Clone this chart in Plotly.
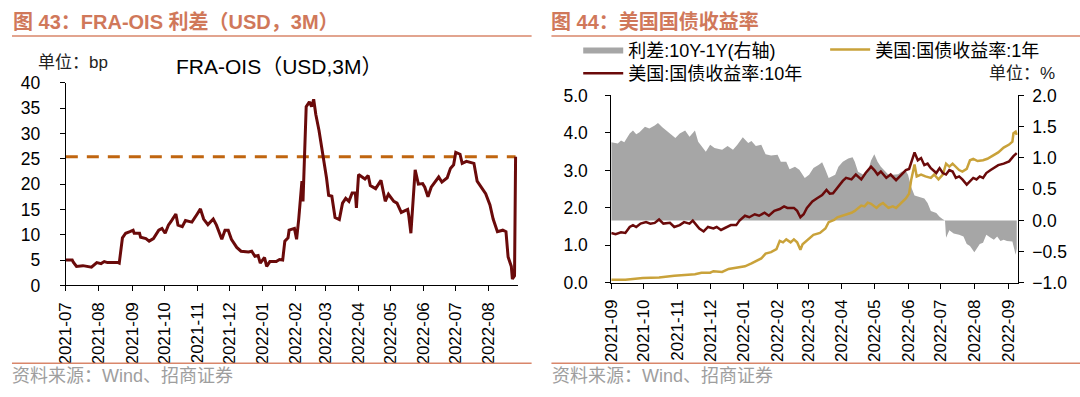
import plotly.graph_objects as go

W, H = 1080, 397

# ---------------- data: left panel (FRA-OIS, bp) ----------------
fra_dates = ["2021-07-01","2021-07-07","2021-07-08","2021-07-11","2021-07-17","2021-07-22","2021-07-25","2021-07-30","2021-08-03","2021-08-06",
             "2021-08-09","2021-08-19","2021-08-20","2021-08-23","2021-08-26","2021-08-30","2021-09-02","2021-09-03","2021-09-08","2021-09-09",
             "2021-09-14","2021-09-17","2021-09-21","2021-09-26","2021-09-29","2021-10-02","2021-10-05","2021-10-08","2021-10-12","2021-10-14",
             "2021-10-18","2021-10-21","2021-10-27","2021-11-01","2021-11-04","2021-11-07","2021-11-11","2021-11-16","2021-11-19","2021-11-24",
             "2021-11-27","2021-11-30","2021-12-03","2021-12-08","2021-12-12","2021-12-19","2021-12-22","2021-12-25","2021-12-28","2021-12-30",
             "2022-01-03","2022-01-05","2022-01-08","2022-01-14","2022-01-17","2022-01-20","2022-01-22","2022-01-25","2022-01-26","2022-01-31",
             "2022-02-02","2022-02-04","2022-02-07","2022-02-08","2022-02-11","2022-02-14","2022-02-16","2022-02-18","2022-02-20","2022-02-23",
             "2022-02-27","2022-03-02","2022-03-04","2022-03-07","2022-03-10","2022-03-14","2022-03-17","2022-03-20","2022-03-23","2022-03-26",
             "2022-03-29","2022-03-30","2022-04-01","2022-04-05","2022-04-07","2022-04-10","2022-04-12","2022-04-17","2022-04-22","2022-04-26",
             "2022-04-29","2022-05-04","2022-05-07","2022-05-11","2022-05-17","2022-05-18","2022-05-20","2022-05-24","2022-05-27","2022-05-31",
             "2022-06-02","2022-06-05","2022-06-08","2022-06-15","2022-06-18","2022-06-23","2022-06-26","2022-06-29","2022-07-01","2022-07-05",
             "2022-07-07","2022-07-11","2022-07-18","2022-07-21","2022-07-24","2022-07-29","2022-08-02","2022-08-05","2022-08-09","2022-08-14",
             "2022-08-17","2022-08-19","2022-08-22","2022-08-23","2022-08-25","2022-08-26"]
fra_values = [5.0,5.0,4.6,3.75,3.9,3.75,3.6,4.5,4.3,4.7,
              4.5,4.5,4.4,9.4,10.3,10.6,10.9,10.3,10.3,9.5,
              9.25,8.75,9.25,10.9,11.25,10.3,11.9,12.8,14.1,11.9,
              11.6,12.8,12.5,14.1,15.1,13.1,12.0,13.1,11.9,9.1,
              10.9,10.9,9.1,7.5,6.75,6.6,6.75,5.75,5.9,4.4,
              5.5,3.75,4.7,4.7,5.1,5.0,8.75,9.4,10.9,11.25,
              9.1,13.1,20.6,16.6,35.3,36.25,35.3,36.75,33.75,30.6,
              25.6,21.25,17.8,17.6,13.4,13.0,16.25,17.2,16.6,18.25,
              18.25,15.3,21.9,21.4,21.0,21.7,19.7,19.1,20.75,16.6,
              18.0,16.6,16.25,14.4,15.0,13.8,10.3,22.8,20.0,20.1,
              19.4,17.5,19.4,21.4,20.4,21.25,23.1,23.8,26.25,25.9,
              24.1,24.5,24.1,20.6,19.7,18.1,15.9,13.1,10.6,10.9,
              10.6,5.6,3.75,1.25,1.9,25.4]
fra_ref_level = 25.4   # dashed reference line (latest value)

# ---------------- data: right panel (US Treasury yields, %) ----------------
spread_dates = ["2021-09-01","2021-09-07","2021-09-10","2021-09-13","2021-09-18","2021-09-21","2021-09-24","2021-09-27","2021-10-02","2021-10-06",
                "2021-10-11","2021-10-14","2021-10-18","2021-10-24","2021-10-30","2021-11-03","2021-11-08","2021-11-12","2021-11-17","2021-11-20",
                "2021-11-27","2021-12-01","2021-12-05","2021-12-12","2021-12-17","2021-12-22","2021-12-26","2021-12-31","2022-01-05","2022-01-08",
                "2022-01-12","2022-01-17","2022-01-21","2022-01-26","2022-02-01","2022-02-04","2022-02-09","2022-02-12","2022-02-17","2022-02-21",
                "2022-02-26","2022-03-02","2022-03-06","2022-03-11","2022-03-14","2022-03-17","2022-03-20","2022-03-26","2022-03-29","2022-04-02",
                "2022-04-07","2022-04-11","2022-04-13","2022-04-16","2022-04-21","2022-04-25","2022-04-28","2022-05-01","2022-05-04","2022-05-07",
                "2022-05-11","2022-05-14","2022-05-18","2022-05-23","2022-05-26","2022-05-30","2022-06-01","2022-06-04","2022-06-07","2022-06-11",
                "2022-06-16","2022-06-19","2022-06-22","2022-06-27","2022-06-30","2022-07-03","2022-07-05","2022-07-06","2022-07-09","2022-07-13",
                "2022-07-18","2022-07-22","2022-07-25","2022-07-28","2022-08-01","2022-08-03","2022-08-06","2022-08-09","2022-08-12","2022-08-16",
                "2022-08-19","2022-08-22","2022-08-25","2022-08-28","2022-08-31","2022-09-05","2022-09-07","2022-09-08","2022-09-09"]
spread_values = [1.25,1.23,1.28,1.25,1.39,1.44,1.38,1.41,1.50,1.47,
                 1.52,1.56,1.49,1.41,1.32,1.39,1.44,1.34,1.44,1.26,
                 1.10,1.21,1.16,1.13,1.19,1.13,1.21,1.33,1.24,1.27,
                 1.19,1.21,1.06,1.04,1.05,0.94,0.94,0.82,0.86,0.81,
                 0.68,0.73,0.84,0.89,0.93,0.81,0.68,0.73,0.86,0.94,
                 0.99,1.01,0.94,0.78,0.73,0.78,0.96,1.06,0.94,0.86,
                 0.79,0.73,0.73,0.74,0.78,0.79,0.73,0.53,0.40,0.38,
                 0.35,0.28,0.15,0.12,0.06,0.02,0.0,-0.28,-0.16,-0.21,
                 -0.23,-0.26,-0.38,-0.41,-0.51,-0.46,-0.38,-0.36,-0.23,-0.28,
                 -0.31,-0.26,-0.33,-0.31,-0.33,-0.34,-0.51,-0.55,-0.45]

y10_dates = ["2021-09-01","2021-09-05","2021-09-10","2021-09-14","2021-09-18","2021-09-21","2021-09-24","2021-09-28","2021-10-03","2021-10-07",
             "2021-10-11","2021-10-15","2021-10-19","2021-10-25","2021-10-29","2021-11-03","2021-11-07","2021-11-12","2021-11-15","2021-11-18",
             "2021-11-21","2021-11-25","2021-11-29","2021-12-04","2021-12-07","2021-12-11","2021-12-16","2021-12-20","2021-12-25","2021-12-28",
             "2022-01-02","2022-01-06","2022-01-11","2022-01-15","2022-01-20","2022-01-24","2022-01-29","2022-02-03","2022-02-07","2022-02-10",
             "2022-02-16","2022-02-19","2022-02-22","2022-02-25","2022-02-28","2022-03-05","2022-03-09","2022-03-14","2022-03-18","2022-03-21",
             "2022-03-24","2022-03-28","2022-04-02","2022-04-05","2022-04-10","2022-04-14","2022-04-19","2022-04-23","2022-04-28","2022-05-01",
             "2022-05-04","2022-05-07","2022-05-12","2022-05-16","2022-05-21","2022-05-26","2022-05-30","2022-06-02","2022-06-05","2022-06-07",
             "2022-06-10","2022-06-13","2022-06-16","2022-06-19","2022-06-22","2022-06-27","2022-06-30","2022-07-03","2022-07-06","2022-07-09",
             "2022-07-12","2022-07-15","2022-07-18","2022-07-21","2022-07-25","2022-07-28","2022-07-31","2022-08-03","2022-08-06","2022-08-09",
             "2022-08-12","2022-08-16","2022-08-19","2022-08-23","2022-08-28","2022-09-02","2022-09-06","2022-09-09"]
y10_values = [1.33,1.30,1.35,1.33,1.49,1.54,1.49,1.58,1.62,1.58,
              1.60,1.69,1.58,1.60,1.49,1.54,1.62,1.58,1.66,1.54,
              1.45,1.37,1.49,1.45,1.49,1.41,1.49,1.54,1.54,1.66,
              1.79,1.75,1.83,1.79,1.87,1.79,1.92,1.97,2.04,2.00,
              2.00,1.92,1.75,1.83,2.00,2.17,2.25,2.34,2.48,2.38,
              2.39,2.55,2.72,2.80,2.76,2.89,2.76,2.93,3.10,3.01,
              2.89,2.97,2.80,2.89,2.74,2.89,3.01,3.04,3.27,3.48,
              3.27,3.33,3.14,3.18,3.06,2.93,3.06,2.93,2.89,3.01,
              2.97,2.80,2.84,2.76,2.62,2.72,2.80,2.76,2.84,2.80,
              2.93,3.01,3.06,3.14,3.18,3.24,3.38,3.46]

y1_dates = ["2021-09-01","2021-09-14","2021-09-30","2021-10-15","2021-10-29","2021-11-11","2021-11-17","2021-11-23","2021-12-01","2021-12-04",
            "2021-12-12","2021-12-18","2021-12-26","2022-01-02","2022-01-08","2022-01-12","2022-01-17","2022-01-21","2022-01-26","2022-01-31",
            "2022-02-03","2022-02-06","2022-02-09","2022-02-13","2022-02-16","2022-02-19","2022-02-22","2022-02-24","2022-02-28","2022-03-06",
            "2022-03-12","2022-03-17","2022-03-20","2022-03-23","2022-03-25","2022-03-28","2022-04-02","2022-04-05","2022-04-10","2022-04-13",
            "2022-04-16","2022-04-19","2022-04-22","2022-04-25","2022-04-28","2022-05-03","2022-05-06","2022-05-09","2022-05-14","2022-05-18",
            "2022-05-21","2022-05-26","2022-05-30","2022-06-02","2022-06-04","2022-06-07","2022-06-09","2022-06-13","2022-06-17","2022-06-22",
            "2022-06-25","2022-06-29","2022-07-03","2022-07-06","2022-07-09","2022-07-12","2022-07-15","2022-07-18","2022-07-21","2022-07-25",
            "2022-07-28","2022-07-31","2022-08-04","2022-08-09","2022-08-13","2022-08-19","2022-08-23","2022-08-28","2022-09-02","2022-09-05",
            "2022-09-06","2022-09-08","2022-09-09"]
y1_values = [0.08,0.08,0.13,0.14,0.19,0.21,0.23,0.27,0.27,0.31,
             0.29,0.37,0.40,0.44,0.52,0.57,0.65,0.78,0.82,0.90,
             1.12,1.08,1.16,1.08,1.16,1.08,0.88,1.03,1.12,1.28,
             1.33,1.45,1.62,1.66,1.68,1.75,1.79,1.83,1.87,1.92,
             2.00,2.06,2.04,2.14,2.11,2.00,2.08,2.13,2.00,2.04,
             2.00,2.13,2.25,2.38,2.76,3.16,2.84,2.89,2.84,2.80,
             2.89,2.76,2.89,3.18,3.10,3.18,3.10,3.01,2.97,3.04,
             3.27,3.31,3.25,3.27,3.31,3.40,3.48,3.61,3.69,3.77,
             3.99,4.03,3.95]

# ---------------- text ----------------
title_left = "图 43：FRA-OIS 利差（USD，3M）"
title_right = "图 44：美国国债收益率"
unit_left = "单位：bp"
unit_right = "单位：%"
series_left = "FRA-OIS（USD,3M）"
name_spread = "利差:10Y-1Y(右轴)"
name_1y = "美国:国债收益率:1年"
name_10y = "美国:国债收益率:10年"
source_text = "资料来源：Wind、招商证券"

# ---------------- styles ----------------
C_DARK = "#6A0A0A"
C_GOLD = "#C9A23A"
C_GRAY = "#A6A6A6"
C_DASH = "#C0650F"
C_TITLE = "#D0785A"
C_RULE = "#D9866A"
FONT = "Liberation Sans, Arial, Noto Sans CJK SC"
YTICK = 17.5
XTICK = 17

def px(x):
    return x / W

def py(y):
    return 1 - y / H

fig = go.Figure()

# left panel
fig.add_trace(go.Scatter(x=[fra_dates[0], fra_dates[-1]], y=[fra_ref_level, fra_ref_level],
                         mode="lines", line=dict(color=C_DASH, width=3, dash="12px,9px"),
                         xaxis="x", yaxis="y", showlegend=False, hoverinfo="skip"))
fig.add_trace(go.Scatter(x=fra_dates, y=fra_values, mode="lines",
                         line=dict(color=C_DARK, width=3), xaxis="x", yaxis="y",
                         showlegend=False, name=series_left))

# right panel: spread area on the base (right-hand) axis, yield lines on the overlaying left axis
fig.add_trace(go.Scatter(x=spread_dates, y=spread_values, mode="lines", fill="tozeroy",
                         fillcolor=C_GRAY, line=dict(color=C_GRAY, width=0),
                         xaxis="x2", yaxis="y2", name=name_spread, legend="legend"))
fig.add_trace(go.Scatter(x=y1_dates, y=y1_values, mode="lines",
                         line=dict(color=C_GOLD, width=2.5), xaxis="x2", yaxis="y3",
                         name=name_1y, legend="legend2"))
fig.add_trace(go.Scatter(x=y10_dates, y=y10_values, mode="lines",
                         line=dict(color=C_DARK, width=2.5), xaxis="x2", yaxis="y3",
                         name=name_10y, legend="legend3"))

axis_common = dict(showline=True, linecolor="#000", linewidth=1, showgrid=False, zeroline=False,
                   ticks="outside", ticklen=5, tickcolor="#000",
                   tickfont=dict(family=FONT, size=YTICK, color="#000"))
xcommon = dict(axis_common, type="date", dtick="M1", tickformat="%Y-%m", tickangle=-90,
               ticklabelstandoff=4, tickfont=dict(family=FONT, size=XTICK, color="#000"))

legend_common = dict(orientation="h", xanchor="left", yanchor="middle", bgcolor="rgba(0,0,0,0)",
                     font=dict(family=FONT, size=18, color="#000"), itemwidth=40, borderwidth=0)

fig.update_layout(
    width=W, height=H, autosize=False,
    margin=dict(l=0, r=0, t=0, b=0),
    paper_bgcolor="white", plot_bgcolor="white",
    xaxis=dict(xcommon, domain=[px(57.3), px(513)], range=["2021-07-01", "2022-08-28"],
               tick0="2021-07-01", anchor="y"),
    yaxis=dict(axis_common, domain=[py(290), py(76.7)], range=[0, 40], dtick=5, anchor="x",
               ticklabelstandoff=16),
    xaxis2=dict(xcommon, domain=[px(607.3), px(1017.3)], range=["2021-09-01", "2022-09-10"],
                tick0="2021-09-01", anchor="y2"),
    yaxis2=dict(axis_common, domain=[py(287.3), py(90)], range=[-1, 2], dtick=0.5, tickformat=".1f",
                side="right", anchor="x2", ticklabelstandoff=5),
    yaxis3=dict(axis_common, range=[0, 5], dtick=1, tickformat=".1f", overlaying="y2",
                side="left", anchor="x2", ticklabelstandoff=14),
    legend=dict(legend_common, x=px(574), y=py(42)),
    legend2=dict(legend_common, x=px(823), y=py(42)),
    legend3=dict(legend_common, x=px(574), y=py(67)),
    showlegend=True,
)

ann = []
def text(x, y, s, size, color, anchor="left", bold=False):
    ann.append(dict(x=px(x), y=py(y), xref="paper", yref="paper", text=(f"<b>{s}</b>" if bold else s),
                    showarrow=False, xanchor=anchor, yanchor="middle",
                    font=dict(family=FONT, size=size, color=color)))

text(2, 13, title_left, 20, C_TITLE, bold=True)
text(545, 13, title_right, 20, C_TITLE, bold=True)
text(27, 55, unit_left, 17, "#222")
text(166, 59, series_left, 21, "#000")
text(1057, 67, unit_right, 17, "#222", anchor="right")
text(1, 385, source_text, 18, "#9E9E9E")
text(546, 385, source_text, 18, "#9E9E9E")
fig.update_layout(annotations=ann)

shapes = []
for (x0, x1) in [(3, 527), (547, 1080)]:
    for yy in (27.5, 372):
        shapes.append(dict(type="line", xref="paper", yref="paper", x0=px(x0), x1=px(x1),
                           y0=py(yy), y1=py(yy), line=dict(color=C_RULE, width=1.5)))
fig.update_layout(shapes=shapes)

fig.write_html("out.html", config={"displayModeBar": False},
               post_script="document.body.style.margin='0';document.body.style.overflow='hidden';")
